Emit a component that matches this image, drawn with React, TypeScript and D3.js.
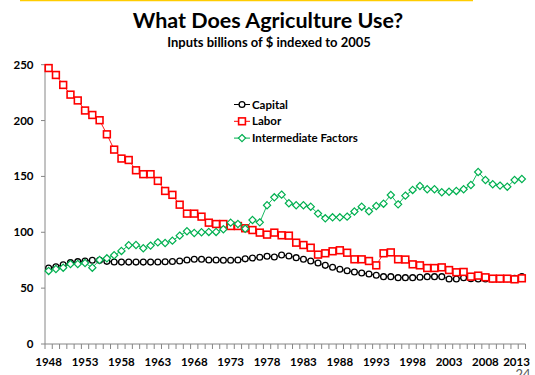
import React from "react";
import * as d3 from "d3";

const years: number[] = d3.range(1948, 2014);

const capital: number[] = [
  68, 69.2, 71, 72.8, 73.7, 74.3, 74.9, 74.9, 74, 73.4,
  73.3, 73.3, 73.3, 73.3, 73.3, 73.4, 73.6, 73.8, 74.3, 75.2,
  75.8, 75.8, 75.2, 75.2, 74.9, 74.9, 75.2, 76.2, 77, 77.6,
  78.5, 77.9, 79.7, 78.8, 77.3, 75.8, 74.3, 72.5, 70.4, 68.7,
  66.9, 65.6, 64.4, 63.6, 62.7, 61.5, 60.3, 60.3, 59.4, 59.4,
  59.4, 59.7, 60.3, 60.3, 60.3, 58.2, 58.2, 59.4, 58.5, 58.2,
  58.2, 58.2, 58.2, 58.5, 58.8, 60.3,
];

const labor: number[] = [
  247, 240.8, 231.9, 223.2, 218, 209, 205, 200.3, 187.7, 174,
  166, 164.7, 155.5, 152, 152, 146, 137, 133.5, 124.7, 116.7,
  116.7, 114, 108.6, 107.4, 107.4, 105.6, 105.6, 103.6, 102, 99.7,
  97.9, 99.7, 97.3, 97, 90.7, 88.6, 86.2, 80, 81.2, 83,
  83.9, 81.7, 75.8, 75.8, 74.3, 70.4, 81.2, 82, 75.8, 75.6,
  71.3, 70.4, 68, 68, 68.6, 66.2, 64.2, 64.5, 60.3, 61.2,
  59.7, 58.5, 58.5, 58.5, 57.9, 58.8,
];

const intermediate: number[] = [
  65.4, 67.1, 68.3, 71.6, 71.6, 72.5, 68.3, 75.2, 76.7, 79.4,
  83.3, 88.4, 88.6, 85.7, 88.1, 91, 90.4, 92.5, 97, 100.9,
  99.4, 100, 100.3, 100.3, 102.7, 108.6, 107.4, 103.2, 111, 108.9,
  124.2, 131.3, 133.7, 126, 124.2, 124.2, 122.9, 116.7, 112.5, 113.4,
  113.4, 114, 118.6, 122.9, 118.8, 123.5, 125.6, 133.4, 125, 132.8,
  137.9, 141.4, 138.5, 138.5, 135.8, 136.3, 137, 138.5, 142.3, 154,
  146.8, 143, 141.8, 140.8, 146.8, 147.7,
];

const yTicks: number[] = [0, 50, 100, 150, 200, 250];
const xLabelYears: number[] = [1948, 1953, 1958, 1963, 1968, 1973, 1978, 1983, 1988, 1993, 1998, 2003, 2008, 2013];

const seriesNames: string[] = ["Capital", "Labor", "Intermediate Factors"];
const seriesColors: string[] = ["#000000", "#FF0000", "#00B050"];

const W = 535;
const H = 375;
const left = 45;
const right = 525.5;
const top = 64.7;
const bottom = 344;
const font = "Lato, 'Liberation Sans', Arial, sans-serif";

function Marker({ kind, x, y, color }: { kind: number; x: number; y: number; color: string }) {
  if (kind === 0) {
    return <circle cx={x} cy={y} r={2.9} fill="#fff" stroke={color} strokeWidth={1.3} />;
  }
  if (kind === 1) {
    const s = 3.4;
    return <rect x={x - s} y={y - s} width={2 * s} height={2 * s} fill="#fff" stroke={color} strokeWidth={1.6} />;
  }
  const d = 3.6;
  return (
    <path
      d={`M${x},${y - d}L${x + d},${y}L${x},${y + d}L${x - d},${y}Z`}
      fill="#fff"
      stroke={color}
      strokeWidth={1.2}
    />
  );
}

export default function App() {
  const x = d3.scaleBand<number>().domain(years).range([left, right]).padding(0);
  const y = d3.scaleLinear().domain([0, 250]).range([bottom, top]);
  const cx = (yr: number) => (x(yr) as number) + x.bandwidth() / 2;

  const data = [capital, labor, intermediate];
  const line = d3
    .line<number>()
    .x((_, i) => cx(years[i]))
    .y((v) => y(v));

  const boundaries = d3.range(0, years.length + 1).map((i) => left + i * x.bandwidth());

  return (
    <svg width={W} height={H} style={{ position: "absolute", left: 0, top: 0, background: "#fff" }}>
      <line x1={20} x2={473} y1={0.5} y2={0.5} stroke="#FFCC00" strokeWidth={1.5} />
      <text x={268} y={27.5} textAnchor="middle" fontFamily={font} fontWeight="bold" fontSize={21.5} fill="#000">
        What Does Agriculture Use?
      </text>
      <text x={269} y={47} textAnchor="middle" fontFamily={font} fontWeight="bold" fontSize={13} fill="#000">
        Inputs billions of $ indexed to 2005
      </text>

      {/* y axis */}
      <line x1={left} x2={left} y1={top} y2={bottom} stroke="#868686" strokeWidth={1} />
      {yTicks.map((t) => (
        <g key={t}>
          <line x1={left - 4} x2={left} y1={y(t)} y2={y(t)} stroke="#868686" />
          <text
            x={33.5}
            y={y(t)}
            dy="0.35em"
            textAnchor="end"
            fontFamily={font}
            fontWeight="bold"
            fontSize={11.5}
            fill="#000"
          >
            {t}
          </text>
        </g>
      ))}

      {/* x axis */}
      <line x1={left} x2={right} y1={bottom} y2={bottom} stroke="#868686" strokeWidth={1} />
      {boundaries.map((b, i) => (
        <line key={i} x1={b} x2={b} y1={bottom} y2={bottom + 5} stroke="#868686" />
      ))}
      {xLabelYears.map((yr) => {
        let px = cx(yr);
        if (px + 12 > right) px = right - 9;
        return (
          <text
            key={yr}
            x={px}
            y={366}
            textAnchor="middle"
            fontFamily={font}
            fontWeight="bold"
            fontSize={11.5}
            fill="#000"
          >
            {yr}
          </text>
        );
      })}

      {/* series */}
      {data.map((vals, si) => (
        <g key={si}>
          <path d={line(vals) as string} fill="none" stroke={seriesColors[si]} strokeWidth={0.9} />
          {vals.map((v, i) => (
            <Marker key={i} kind={si} x={cx(years[i])} y={y(v)} color={seriesColors[si]} />
          ))}
        </g>
      ))}

      {/* legend */}
      {seriesNames.map((n, i) => {
        const ly = 104.5 + i * 16.8;
        return (
          <g key={n}>
            <line x1={234} x2={250} y1={ly} y2={ly} stroke={seriesColors[i]} strokeWidth={1} />
            <Marker kind={i} x={242} y={ly} color={seriesColors[i]} />
            <text x={252} y={ly} dy="0.35em" fontFamily={font} fontWeight="bold" fontSize={11.5} fill="#000">
              {n}
            </text>
          </g>
        );
      })}

      <text x={523} y={379} textAnchor="middle" fontFamily={font} fontSize={13} fill="#595959">
        24
      </text>
    </svg>
  );
}
